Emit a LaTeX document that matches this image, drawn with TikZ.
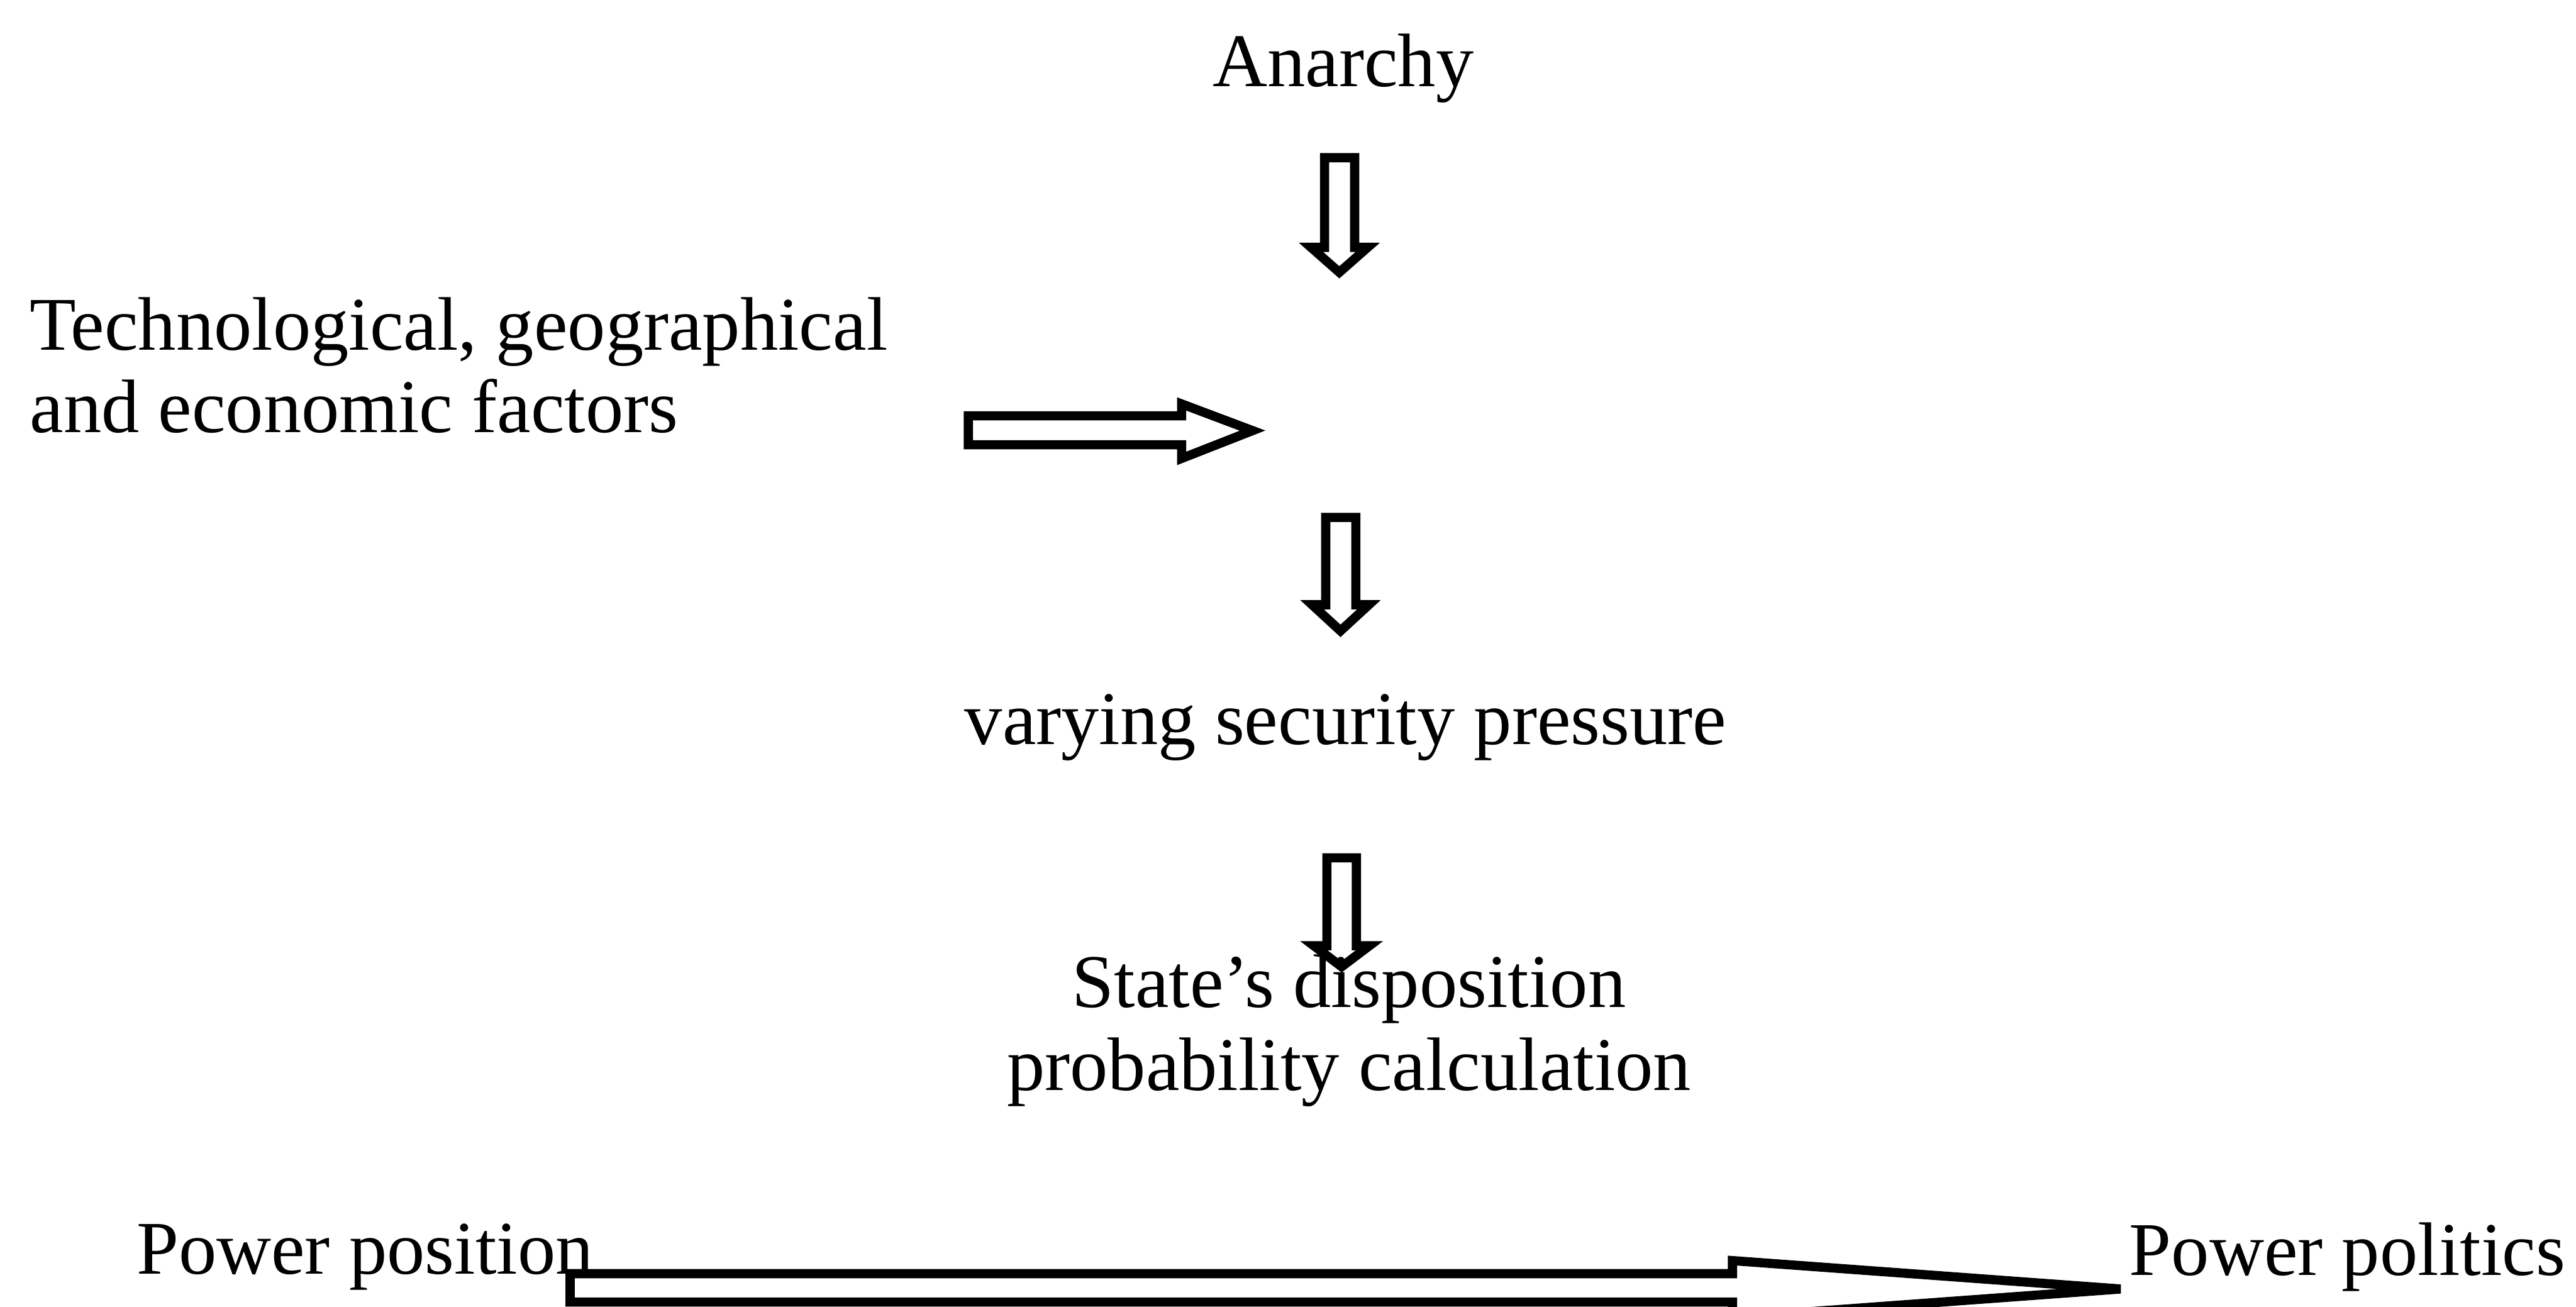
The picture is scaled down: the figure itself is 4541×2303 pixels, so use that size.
\documentclass[tikz,border=0pt]{standalone}
\usepackage{fontspec}
\setmainfont{Liberation Serif}
\begin{document}
\begin{tikzpicture}[x=0.01cm,y=-0.01cm,
  lbl/.style={inner sep=0pt, font=\fontsize{38}{45}\selectfont},
  blockarrow/.style={draw=black, line width=4.6pt, line join=miter}]
\useasboundingbox (0,0) rectangle (4541,2303);
\clip (0,0) rectangle (4541,2303);
% texts
\node[lbl, anchor=base] (anarchy) at (2368,152) {Anarchy};
\node[lbl, anchor=base west] (tech1) at (52,617) {Technological, geographical};
\node[lbl, anchor=base west] (tech2) at (52,762) {and economic factors};
\node[lbl, anchor=base] (vsp) at (2372,1312) {varying security pressure};
% arrows
\draw[blockarrow] (2335,278) -- (2388,278) -- (2388,436) -- (2411,436) -- (2361,480) -- (2311,436) -- (2335,436) -- cycle;
\draw[blockarrow] (1707,733) -- (2083,733) -- (2083,712) -- (2208,759) -- (2083,808) -- (2083,784) -- (1707,784) -- cycle;
\draw[blockarrow] (2337,912) -- (2390,912) -- (2390,1066) -- (2413,1066) -- (2363,1112) -- (2313,1066) -- (2337,1066) -- cycle;
\draw[blockarrow] (2339,1512) -- (2391,1512) -- (2391,1667) -- (2414,1667) -- (2365,1704) -- (2316,1667) -- (2339,1667) -- cycle;
\draw[blockarrow] (1005,2245) -- (3054,2245) -- (3054,2222) -- (3738,2272) -- (3054,2322) -- (3054,2295) -- (1005,2295) -- cycle;
% lower texts
\node[lbl, anchor=base] (state1) at (2378,1775) {State’s disposition};
\node[lbl, anchor=base] (state2) at (2378,1922) {probability calculation};
\node[lbl, anchor=base west] (ppos) at (240,2245) {Power position};
\node[lbl, anchor=base west] (ppol) at (3753,2248) {Power politics};
\end{tikzpicture}
\end{document}
